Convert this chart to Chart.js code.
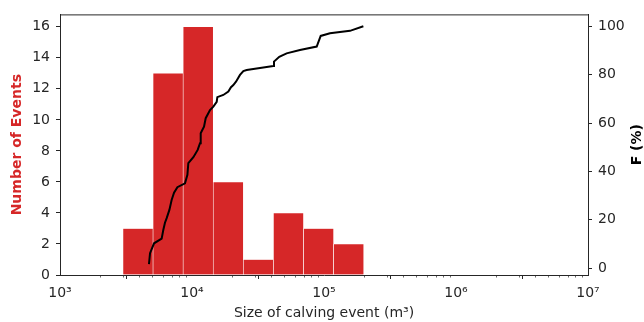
<!DOCTYPE html>
<html>
<head>
<meta charset="utf-8">
<script src="https://cdn.jsdelivr.net/npm/chart.js@4"></script>
<style>
  html, body { margin: 0; padding: 0; background: #fff; }
</style>
</head>
<body>
<canvas id="chart" width="644" height="322"></canvas>
<script>
  // histogram bins (m3) and event counts
  const binEdges = [3000, 5070, 8570, 14490, 24490, 41390, 69960, 118250, 200000];
  const binCounts = [3, 13, 16, 6, 1, 4, 3, 2];

  // cumulative distribution
  const cdfSize = [4720, 4810, 5160, 5890, 6060, 6240, 6430, 6740, 7010, 7310, 7750, 8850,
    9230, 9380, 10240, 11040, 11500, 11640, 11970, 12330, 12700, 13690, 14510, 15390, 15560,
    17270, 18850, 19740, 20560, 21540, 23100, 24490, 25950, 41300, 41790, 45830, 52100,
    65750, 88060, 94400, 111000, 157400, 198700];
  const cdfPercent = [1.7, 6.2, 10.3, 12.2, 15.8, 18.8, 20.7, 24.1, 28.2, 31.2, 33.5, 35.1,
    38.6, 43.4, 45.9, 48.9, 51.7, 55.8, 57.1, 58.5, 62.0, 65.4, 66.8, 68.8, 70.7,
    71.6, 73.0, 74.8, 75.7, 77.1, 79.9, 81.5, 81.9, 83.6, 85.4, 87.4, 88.8,
    90.2, 91.6, 96.0, 97.1, 98.1, 100];

  const xTickValues = [1e3, 1e4, 1e5, 1e6, 1e7];
  const xTickLabels = ['10\u00b3', '10\u2074', '10\u2075', '10\u2076', '10\u2077'];
  const countTicks = [0, 2, 4, 6, 8, 10, 12, 14, 16];
  const percentTicks = [0, 20, 40, 60, 80, 100];

  const red = '#d62728';
  const axisColor = '#262626';
  const font = { family: 'DejaVu Sans', size: 14 };
  const boldFont = { family: 'DejaVu Sans', size: 14, weight: 'bold' };

  const barData = binCounts.map((n, i) => ({ x: Math.sqrt(binEdges[i] * binEdges[i + 1]), y: n }));
  const cdfData = cdfSize.map((s, i) => ({ x: s, y: cdfPercent[i] }));

  // top spine, minor log ticks and the right axis title (reads bottom-to-top like matplotlib)
  const framePlugin = {
    id: 'frame',
    afterDraw(chart) {
      const { ctx, chartArea: a, scales } = chart;
      ctx.save();
      ctx.strokeStyle = axisColor;
      ctx.lineWidth = 1;
      ctx.beginPath();
      ctx.moveTo(a.left, a.top + 0.5);
      ctx.lineTo(a.right, a.top + 0.5);
      ctx.stroke();
      ctx.lineWidth = 0.7;
      ctx.beginPath();
      for (let d = 3; d < 7; d++) {
        for (let k = 2; k <= 9; k++) {
          const px = Math.round(scales.x.getPixelForValue(k * Math.pow(10, d))) + 0.5;
          ctx.moveTo(px, a.bottom);
          ctx.lineTo(px, a.bottom + 2.5);
        }
      }
      ctx.stroke();

      ctx.translate(637, (a.top + a.bottom) / 2);
      ctx.rotate(-Math.PI / 2);
      ctx.fillStyle = '#000';
      ctx.font = 'bold 14px "DejaVu Sans"';
      ctx.textAlign = 'center';
      ctx.textBaseline = 'middle';
      ctx.fillText('F (%)', 0, 0);
      ctx.restore();
    },
  };

  new Chart(document.getElementById('chart'), {
    type: 'bar',
    data: {
      datasets: [
        {
          type: 'line',
          data: cdfData,
          borderColor: '#000',
          borderWidth: 2,
          pointRadius: 0,
          tension: 0,
          yAxisID: 'y2',
          order: 0,
        },
        {
          type: 'bar',
          data: barData,
          backgroundColor: red,
          borderColor: '#fff',
          borderWidth: 0.6,
          categoryPercentage: 1,
          barPercentage: 1,
          yAxisID: 'y',
          order: 1,
        },
      ],
    },
    plugins: [framePlugin],
    options: {
      responsive: false,
      animation: false,
      layout: { padding: { top: 14, left: 0, right: 0, bottom: 0 } },
      plugins: { legend: { display: false }, tooltip: { enabled: false } },
      scales: {
        x: {
          type: 'logarithmic',
          min: 1e3,
          max: 1e7,
          afterBuildTicks: (s) => { s.ticks = xTickValues.map((v) => ({ value: v })); },
          afterFit: (s) => { s.height = 47; },
          ticks: {
            color: axisColor,
            font,
            padding: 6,
            maxRotation: 0,
            callback: (v) => xTickLabels[xTickValues.indexOf(v)],
          },
          grid: { drawOnChartArea: false, tickLength: 4, tickColor: axisColor },
          border: { color: axisColor, width: 1 },
          title: {
            display: true,
            text: 'Size of calving event (m\u00b3)',
            color: axisColor,
            font,
            padding: { top: 0, bottom: 0 },
          },
        },
        y: {
          position: 'left',
          min: 0,
          max: 16.8,
          afterBuildTicks: (s) => { s.ticks = countTicks.map((v) => ({ value: v })); },
          afterFit: (s) => { s.width = 60; },
          ticks: { color: axisColor, font, padding: 6 },
          grid: { drawOnChartArea: false, tickLength: 4, tickColor: axisColor },
          border: { color: axisColor, width: 1 },
          title: {
            display: true,
            text: 'Number of Events',
            color: red,
            font: boldFont,
            padding: { top: 9, bottom: 0 },
          },
        },
        y2: {
          position: 'right',
          min: -2.8,
          max: 104.9,
          afterBuildTicks: (s) => { s.ticks = percentTicks.map((v) => ({ value: v })); },
          afterFit: (s) => { s.width = 56; },
          ticks: { color: axisColor, font, padding: 6 },
          grid: { drawOnChartArea: false, tickLength: 4, tickColor: axisColor },
          border: { color: axisColor, width: 1 },
        },
      },
    },
  });
</script>
</body>
</html>
